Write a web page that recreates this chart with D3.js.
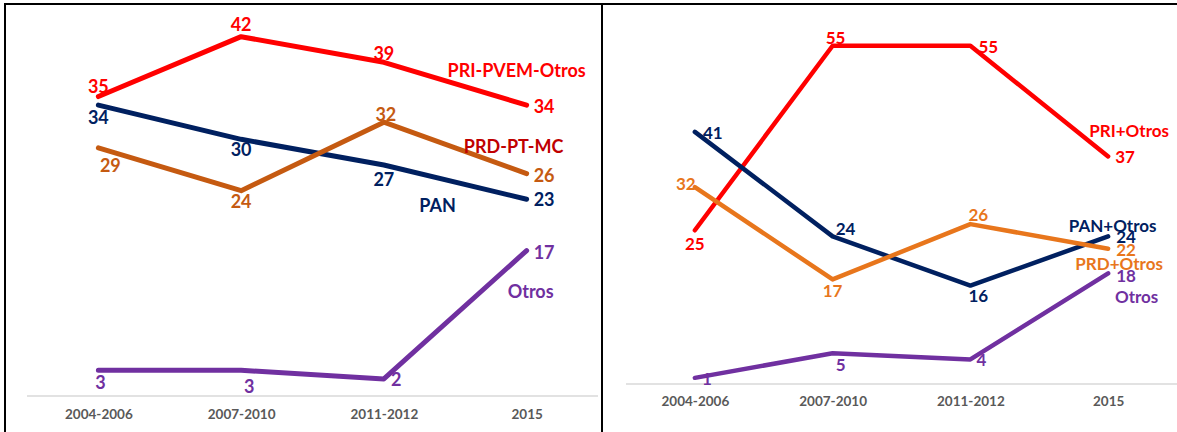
<!DOCTYPE html>
<html>
<head>
<meta charset="utf-8">
<script src="https://cdn.jsdelivr.net/npm/d3@7"></script>
<style>
  html, body { margin: 0; padding: 0; background: #fff; }
  svg { display: block; }
  text { font-family: Lato, "Liberation Sans", sans-serif; font-weight: 700; }
</style>
</head>
<body>
<svg id="chart" width="1177" height="432"></svg>
<script>
// ---------- DATA ----------
const categories = ["2004-2006", "2007-2010", "2011-2012", "2015"];

// Left panel
const leftNames = ["PRI-PVEM-Otros", "PAN", "PRD-PT-MC", "Otros"];
const leftPRI   = [35, 42, 39, 34];
const leftPAN   = [34, 30, 27, 23];
const leftPRD   = [29, 24, 32, 26];
const leftOtros = [3, 3, 2, 17];

// Right panel
const rightNames = ["PRI+Otros", "PAN+Otros", "PRD+Otros", "Otros"];
const rightPRI   = [25, 55, 55, 37];
const rightPAN   = [41, 24, 16, 24];
const rightPRD   = [32, 17, 26, 22];
const rightOtros = [1, 5, 4, 18];

// ---------- DRAW ----------
const svg = d3.select("#chart");
const fmt = d3.format(".0f");

function drawPanel(cfg) {
  const g = svg.append("g");
  const x = d3.scalePoint().domain(categories).range(cfg.xRange).padding(0.5);
  const y = d3.scaleLinear().domain(cfg.yDomain).range(cfg.yRange);

  // baseline (category axis)
  const axis = d3.axisBottom(x).tickSize(0).tickPadding(cfg.tickPad);
  const ax = g.append("g").attr("transform", `translate(0,${cfg.yRange[0]})`).call(axis);
  ax.select(".domain").attr("stroke", "#d9d9d9").attr("stroke-width", 1.5)
    .attr("d", `M${cfg.xRange[0]},0H${cfg.xRange[1]}`);
  ax.selectAll("text").attr("fill", "#595959").attr("font-size", "13.5px")
    .attr("font-family", "Lato, sans-serif").attr("font-weight", 700);

  const line = d3.line().x((d, i) => x(categories[i])).y(d => y(d));

  cfg.series.forEach(s => {
    g.append("path").datum(s.values)
      .attr("d", line).attr("fill", "none").attr("stroke", s.color)
      .attr("stroke-width", cfg.lineWidth)
      .attr("stroke-linecap", "round").attr("stroke-linejoin", "round");
  });

  cfg.series.forEach(s => {
    g.selectAll(null).data(s.values).enter().append("text")
      .attr("x", (d, i) => x(categories[i]) + s.lab[i][0])
      .attr("y", (d, i) => y(d) + s.lab[i][1])
      .attr("text-anchor", (d, i) => s.lab[i][2] || "middle")
      .attr("dominant-baseline", "central")
      .attr("fill", s.color).attr("font-size", cfg.fontSize)
      .text(d => fmt(d));
    const last = s.values.length - 1;
    g.append("text")
      .attr("x", x(categories[last]) + s.name[0])
      .attr("y", y(s.values[last]) + s.name[1])
      .attr("text-anchor", "middle").attr("dominant-baseline", "central")
      .attr("fill", s.nameColor || s.color).attr("font-size", cfg.fontSize)
      .text(s.label);
  });
}

const RED = "#ff0000", NAVY = "#002060", PURPLE = "#7030a0";

drawPanel({
  xRange: [27, 598], yDomain: [0, 45], yRange: [396, 11], tickPad: 13,
  lineWidth: 5, fontSize: "18px",
  series: [
    { values: leftPRI, color: RED, label: leftNames[0],
      lab: [[0, -11], [0, -13], [0, -9], [7, 1, "start"]], name: [-10, -35] },
    { values: leftPAN, color: NAVY, label: leftNames[1],
      lab: [[0, 12], [0, 10], [0, 14], [7, 0, "start"]], name: [-89, 6] },
    { values: leftPRD, color: "#c55a11", nameColor: "#c00000", label: leftNames[2],
      lab: [[12, 17], [0, 10], [2, -8], [7, 1, "start"]], name: [-13, -28] },
    { values: leftOtros, color: PURPLE, label: leftNames[3],
      lab: [[2, 12], [8, 16], [7, 0, "start"], [7, 1, "start"]], name: [4, 40] }
  ]
});

drawPanel({
  xRange: [626, 1177], yDomain: [0, 60], yRange: [384, 15], tickPad: 12,
  lineWidth: 4.5, fontSize: "17px",
  series: [
    { values: rightPRI, color: RED, label: rightNames[0],
      lab: [[0, 13.5], [3, -8.5], [8, 0.5, "start"], [7, 0, "start"]], name: [21, -25.5] },
    { values: rightPAN, color: NAVY, label: rightNames[1],
      lab: [[8, 1, "start"], [13, -8], [8, 10], [8, 0.5, "start"]], name: [4.5, -11] },
    { values: rightPRD, color: "#e8761c", label: rightNames[2],
      lab: [[-9, -4], [0, 11], [8, -9.5], [8, 1, "start"]], name: [11, 15] },
    { values: rightOtros, color: PURPLE, label: rightNames[3],
      lab: [[7, 1, "start"], [8, 11], [6, 0, "start"], [8, 2.5, "start"]], name: [28.5, 23] }
  ]
});

// panel frames
svg.append("path").attr("fill", "none").attr("stroke", "#000").attr("stroke-width", 2)
  .attr("d", "M5,432V4H1177M602,4V432");
</script>
</body>
</html>
